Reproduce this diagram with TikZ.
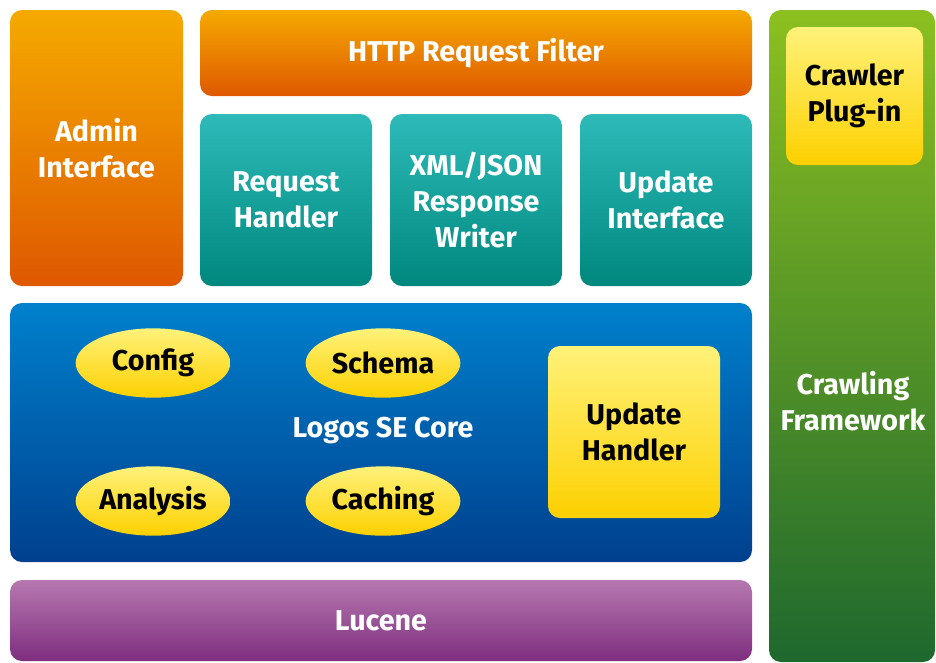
\documentclass[tikz,border=0pt]{standalone}
\usepackage{fontspec}
\setmainfont{Fira Sans}
\usetikzlibrary{shapes.geometric}

\definecolor{orangeTop}{RGB}{245,170,0}
\definecolor{orangeBot}{RGB}{222,88,0}
\definecolor{tealTop}{RGB}{45,186,184}
\definecolor{tealBot}{RGB}{0,136,126}
\definecolor{blueTop}{RGB}{0,128,204}
\definecolor{blueBot}{RGB}{0,64,142}
\definecolor{purpleTop}{RGB}{182,120,176}
\definecolor{purpleBot}{RGB}{126,46,126}
\definecolor{greenTop}{RGB}{140,192,32}
\definecolor{greenBot}{RGB}{30,104,46}
\definecolor{yellowTop}{RGB}{255,242,122}
\definecolor{yellowBot}{RGB}{252,208,0}

\begin{document}
\begin{tikzpicture}[x=0.75pt,y=-0.75pt,
  every node/.style={font=\bfseries\fontsize{21.5}{27}\selectfont, align=center, inner sep=0pt},
  block/.style={rectangle, rounded corners=9pt, text=white},
  orangebox/.style={block, top color=orangeTop, bottom color=orangeBot},
  tealbox/.style={block, top color=tealTop, bottom color=tealBot, minimum width=129pt, minimum height=129pt},
  yellowbox/.style={block, text=black, top color=yellowTop, bottom color=yellowBot},
  yellowoval/.style={ellipse, text=black, top color=yellowTop, bottom color=yellowBot, minimum width=116pt, minimum height=52pt}]
%set diagram frame
\fill[white] (0,0) rectangle (936,662);
\useasboundingbox (0,0) rectangle (936,662);

%Rounded Rect: left column
\node[orangebox, minimum width=129.75pt, minimum height=207pt] (admin) at (96.5,148) {Admin\\Interface};
%Rounded Rect: top bar
\node[orangebox, minimum width=414pt, minimum height=64.5pt] (filter) at (476,53) {HTTP Request Filter};
%Rounded Rect: teal row
\node[tealbox] (handler) at (286,200) {Request\\Handler};
\node[tealbox] (writer) at (476,200) {XML/JSON\\Response\\Writer};
\node[tealbox] (updint) at (666,200) {Update\\Interface};

%Rounded Rect: core
\node[block, top color=blueTop, bottom color=blueBot, minimum width=556.5pt, minimum height=194.25pt] (core) at (381,432.5) {};
\node[text=white] (coretext) at (383,430) {Logos SE Core};
% Ellipses
\node[yellowoval] (config) at (153,363) {Config};
\node[yellowoval] (schema) at (383,363) {Schema};
\node[yellowoval] (analysis) at (153,501) {Analysis};
\node[yellowoval] (caching) at (383,501) {Caching};
\node[yellowbox, minimum width=129pt, minimum height=129pt] (updhandler) at (634,432) {Update\\Handler};

%Rounded Rect: bottom bar
\node[block, top color=purpleTop, bottom color=purpleBot, minimum width=556.5pt, minimum height=60.75pt] (lucene) at (381,620.5) {Lucene};

%Rounded Rect: right column
\node[block, top color=greenTop, bottom color=greenBot, minimum width=124.5pt, minimum height=489pt] (crawling) at (852,336) {};
\node[text=white] (crawltext) at (853,401) {Crawling\\Framework};
\node[yellowbox, minimum width=102.75pt, minimum height=103.5pt] (plugin) at (854.5,96) {Crawler\\Plug-in};
\end{tikzpicture}
\end{document}
